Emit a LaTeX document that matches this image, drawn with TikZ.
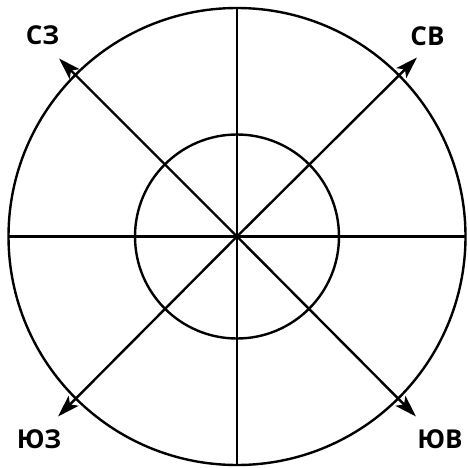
\documentclass[tikz,border=0pt]{standalone}
\usepackage{fontspec}
\setsansfont{Open Sans}
\usetikzlibrary{arrows.meta,calc}
\begin{document}
\begin{tikzpicture}[x=1pt,y=1pt,
  ln/.style={line width=2.4pt,black},
  arr/.style={ln,-{Stealth[length=22pt,width=14pt,inset=5pt]}},
  lbl/.style={font=\sffamily\bfseries\fontsize{26}{26}\selectfont,inner sep=0pt}]
\useasboundingbox (0,0) rectangle (468,467);
\coordinate (O) at (237,230.5);
\draw[ln] (O) circle (228.5);
\draw[ln] (O) circle (102);
\coordinate (W) at (8.5,230.5);
\coordinate (E) at (465.5,230.5);
\coordinate (N) at (237,459);
\coordinate (S) at (237,2);
\draw[ln] (W) -- (E);
\draw[ln] (N) -- (S);
\coordinate (NW) at ($(O)+(-178,178)$);
\coordinate (NE) at ($(O)+(180,179)$);
\coordinate (SW) at ($(O)+(-179,-180)$);
\coordinate (SE) at ($(O)+(179,-180)$);
\draw[arr] (O) -- (NW);
\draw[arr] (O) -- (NE);
\draw[arr] (O) -- (SW);
\draw[arr] (O) -- (SE);
\node[lbl] (lNW) at (42.5,432) {СЗ};
\node[lbl] (lNE) at (427.5,431) {СВ};
\node[lbl] (lSW) at (39,28) {ЮЗ};
\node[lbl] (lSE) at (440,28) {ЮВ};
\end{tikzpicture}
\end{document}
